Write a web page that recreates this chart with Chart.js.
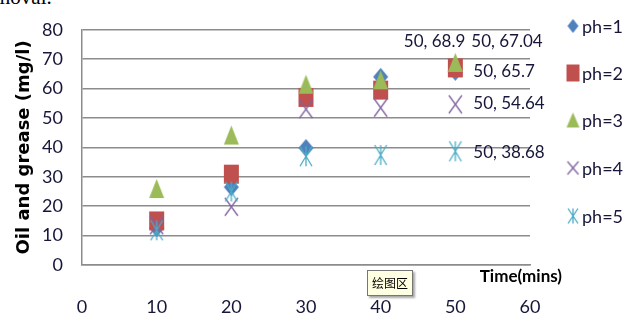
<!DOCTYPE html>
<html>
<head>
<meta charset="utf-8">
<script src="https://cdn.jsdelivr.net/npm/chart.js@4.4.1/dist/chart.umd.min.js"></script>
<style>
  html, body { margin: 0; padding: 0; background: #fff; }
  #wrap { position: relative; width: 624px; height: 314px; overflow: hidden; }
  #c { position: absolute; left: 0; top: 0; }
  #frag { position: absolute; left: -6px; top: -15px; font: 21px "Liberation Serif", serif; color: #000; white-space: nowrap; }
  #tip { position: absolute; left: 367px; top: 270px; width: 44px; height: 24px; background: #FFFFE1; border: 1px solid #767676;
         box-shadow: 2px 2px 2px rgba(0,0,0,0.35); font: 12px "Noto Sans CJK SC", sans-serif; color: #000; line-height: 24px; text-align: center; }
</style>
</head>
<body>
<div id="wrap">
  <div id="frag">moval.</div>
  <canvas id="c" width="624" height="314"></canvas>
  <div id="tip">绘图区</div>
</div>
<script>
// ---- data ----
const times = [10, 20, 30, 40, 50];
const seriesNames = ['ph=1', 'ph=2', 'ph=3', 'ph=4', 'ph=5'];
const ph1 = [12.6, 26.5, 39.8, 64.0, 65.7];
const ph2 = [15.0, 30.9, 57.0, 59.5, 67.04];
const ph3 = [26.0, 44.2, 61.5, 63.0, 68.9];
const ph4 = [13.5, 19.8, 53.0, 53.5, 54.64];
const ph5 = [11.8, 25.0, 37.0, 37.4, 38.68];
const xTicks = [0, 10, 20, 30, 40, 50, 60];
const yTicks = [0, 10, 20, 30, 40, 50, 60, 70, 80];

// ---- styles ----
const colors = ['#4F81BD', '#C0504D', '#9BBB59', '#8064A2', '#4BACC6'];
const shapes = ['diamond', 'square', 'triangle', 'x', 'star'];
const markerSize = [[15, 18], [15, 19], [15, 19], [13, 18], [12, 20]];
const legendSize = [[11, 14], [13, 17], [13, 15], [11, 13], [10, 15]];
const TXT = '#16163a';
const FONT = 'Lato, "Liberation Sans", sans-serif';

function makeMarker(shape, color, w, h) {
  const pad = 2;
  const cv = document.createElement('canvas');
  cv.width = w + pad * 2; cv.height = h + pad * 2;
  const g = cv.getContext('2d');
  g.translate(pad, pad);
  g.fillStyle = color; g.strokeStyle = color; g.lineWidth = 1.3;
  if (shape === 'diamond') {
    g.beginPath(); g.moveTo(w / 2, 0); g.lineTo(w, h / 2); g.lineTo(w / 2, h); g.lineTo(0, h / 2); g.closePath(); g.fill();
  } else if (shape === 'square') {
    g.fillRect(0, 0, w, h);
  } else if (shape === 'triangle') {
    g.beginPath(); g.moveTo(w / 2, 0); g.lineTo(w, h); g.lineTo(0, h); g.closePath(); g.fill();
  } else if (shape === 'x') {
    g.beginPath(); g.moveTo(0, 0); g.lineTo(w, h); g.moveTo(w, 0); g.lineTo(0, h); g.stroke();
  } else if (shape === 'star') {
    g.beginPath(); g.moveTo(0, 0); g.lineTo(w, h); g.moveTo(w, 0); g.lineTo(0, h);
    g.moveTo(w / 2, 0); g.lineTo(w / 2, h); g.stroke();
  }
  return cv;
}

const seriesData = [ph1, ph2, ph3, ph4, ph5];
const datasets = seriesData.map((vals, i) => ({
  label: seriesNames[i],
  data: times.map((t, j) => ({ x: t, y: vals[j] })),
  pointStyle: makeMarker(shapes[i], colors[i], markerSize[i][0], markerSize[i][1]),
  backgroundColor: colors[i],
  borderColor: colors[i],
  showLine: false,
  order: seriesData.length - i
}));
const legendIcons = shapes.map((s, i) => makeMarker(s, colors[i], legendSize[i][0], legendSize[i][1]));

// label style for last-point annotations: [dx, dy, align]
const lastLabelStyle = [[18, 0, 'left'], [16, -26, 'left'], [10, -21, 'right'], [18, -1, 'left'], [18, 1, 'left']];

const annotate = {
  id: 'annotate',
  afterDatasetsDraw(chart) {
    const ctx = chart.ctx;
    const xs = chart.scales.x, ys = chart.scales.y;
    ctx.save();
    ctx.font = '17px ' + FONT;
    ctx.fillStyle = TXT;
    ctx.textBaseline = 'middle';
    seriesData.forEach((vals, i) => {
      const j = vals.length - 1;
      const px = xs.getPixelForValue(times[j]);
      const py = ys.getPixelForValue(vals[j]);
      const st = lastLabelStyle[i];
      ctx.textAlign = st[2];
      ctx.fillText(times[j] + ', ' + vals[j], px + st[0], py + st[1]);
    });
    // x-axis title
    ctx.font = 'bold 17px ' + FONT;
    ctx.fillStyle = '#000';
    ctx.textAlign = 'right';
    ctx.fillText('Time(mins)', xs.right + 32, ys.bottom + 12);
    // legend
    ctx.font = '18px ' + FONT;
    ctx.fillStyle = TXT;
    ctx.textAlign = 'left';
    const legendY = [26, 73, 120, 168, 216];
    legendIcons.forEach((ic, i) => {
      ctx.drawImage(ic, 573 - ic.width / 2, legendY[i] - ic.height / 2);
      ctx.fillText(seriesNames[i], 582, legendY[i] + 1);
    });
    ctx.restore();
  }
};

new Chart(document.getElementById('c'), {
  type: 'scatter',
  data: { datasets },
  options: {
    responsive: false,
    animation: false,
    devicePixelRatio: 1,
    layout: { padding: { left: 0, right: 94, top: 23, bottom: 0 } },
    plugins: { legend: { display: false }, tooltip: { enabled: false } },
    elements: { point: { radius: 8 } },
    scales: {
      x: {
        type: 'linear', min: 0, max: 60,
        afterFit: s => { s.height = 49; },
        afterBuildTicks: s => { s.ticks = xTicks.map(v => ({ value: v })); },
        grid: { display: false, drawTicks: false },
        border: { display: true, color: '#8c8c8c', width: 1.5 },
        ticks: { padding: 31, color: TXT, font: { family: FONT, size: 18 } }
      },
      y: {
        type: 'linear', min: 0, max: 80,
        afterFit: s => { s.width = 82; },
        afterBuildTicks: s => { s.ticks = yTicks.map(v => ({ value: v })); },
        grid: { display: true, drawTicks: false, color: '#8c8c8c', lineWidth: 1.5 },
        border: { display: true, color: '#8c8c8c', width: 1.5 },
        ticks: { padding: 19, color: TXT, font: { family: FONT, size: 18 } },
        title: { display: true, text: 'Oil and grease (mg/l)', color: '#000',
                 font: { family: '"DejaVu Sans", Verdana, sans-serif', size: 18, weight: 'bold' },
                 padding: { top: 14, bottom: 0 } }
      }
    }
  },
  plugins: [annotate]
});
</script>
</body>
</html>
